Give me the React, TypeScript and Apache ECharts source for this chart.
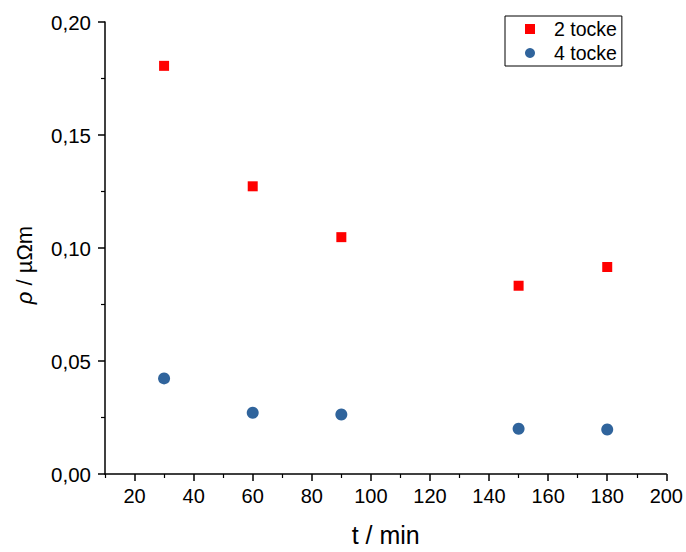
import React, { useEffect, useRef } from "react";
import * as echarts from "echarts";

const timesMin = [30, 60, 90, 150, 180];
const rho2Tocke = [0.1806, 0.1273, 0.1048, 0.0833, 0.0916];
const rho4Tocke = [0.0423, 0.0271, 0.0263, 0.0200, 0.0197];
const seriesNames = ["2 tocke", "4 tocke"];
const xMajorTicks = [20, 40, 60, 80, 100, 120, 140, 160, 180, 200];
const xMinorTicks = [10, 30, 50, 70, 90, 110, 130, 150, 170, 190];

export default function App() {
  const ref = useRef<HTMLDivElement>(null);
  useEffect(() => {
    if (!ref.current) return;
    const chart = echarts.init(ref.current, undefined, { renderer: "svg" });
    const font = "Arial, 'Liberation Sans', sans-serif";
    const axisLine = { show: true, onZero: false, lineStyle: { color: "#000", width: 1.5 } };
    chart.setOption({
      animation: false,
      backgroundColor: "#ffffff",
      textStyle: { fontFamily: font },
      grid: { left: 105, right: 18, top: 22, bottom: 76, containLabel: false },
      legend: {
        orient: "vertical",
        left: 505,
        top: 16,
        padding: [3, 5, 3, 20],
        itemGap: 4,
        itemWidth: 10,
        itemHeight: 10,
        borderColor: "#000",
        borderWidth: 1,
        textStyle: { fontSize: 19.5, lineHeight: 20, color: "#000", fontFamily: font, padding: [0, 0, 0, 14] },
        data: seriesNames,
      },
      xAxis: [
        {
          type: "value",
          min: 10,
          max: 200,
          position: "bottom",
          name: "t / min",
          nameLocation: "middle",
          nameGap: 48,
          nameTextStyle: { fontSize: 25, color: "#000", fontFamily: font },
          axisLine,
          axisTick: { show: true, inside: false, length: 7, customValues: xMajorTicks, lineStyle: { color: "#000", width: 1.5 } },
          splitLine: { show: false },
          axisLabel: {
            fontSize: 20,
            color: "#000",
            margin: 12,
            fontFamily: font,
            customValues: xMajorTicks,
            formatter: (v: number) => String(v),
          },
        },
        {
          type: "value",
          min: 10,
          max: 200,
          position: "bottom",
          gridIndex: 0,
          axisLine: { show: false, onZero: false },
          axisTick: { show: true, inside: false, length: 4, customValues: xMinorTicks, lineStyle: { color: "#000", width: 1.2 } },
          axisLabel: { show: false },
          splitLine: { show: false },
        },
      ],
      yAxis: {
        type: "value",
        min: 0,
        max: 0.2,
        interval: 0.05,
        name: "{i|ρ} / µΩm",
        nameLocation: "middle",
        nameRotate: 90,
        nameGap: 70,
        nameTextStyle: {
          fontSize: 22,
          color: "#000",
          fontFamily: font,
          padding: [0, 34, 0, 0],
          rich: { i: { fontStyle: "italic", fontSize: 22, fontFamily: font, color: "#000" } },
        },
        axisLine,
        axisTick: { show: true, inside: false, length: 7, lineStyle: { color: "#000", width: 1.5 } },
        minorTick: { show: true, splitNumber: 2, length: 4, lineStyle: { color: "#000", width: 1.2 } },
        splitLine: { show: false },
        minorSplitLine: { show: false },
        axisLabel: {
          fontSize: 20.5,
          color: "#000",
          margin: 14,
          fontFamily: font,
          formatter: (v: number) => v.toFixed(2).replace(".", ","),
        },
      },
      series: [
        {
          name: seriesNames[0],
          type: "scatter",
          symbol: "rect",
          symbolSize: 10,
          itemStyle: { color: "#ff0000", opacity: 1 },
          data: timesMin.map((t, i) => [t, rho2Tocke[i]]),
        },
        {
          name: seriesNames[1],
          type: "scatter",
          symbol: "circle",
          symbolSize: 12,
          itemStyle: { color: "#30649c", opacity: 1 },
          data: timesMin.map((t, i) => [t, rho4Tocke[i]]),
        },
      ],
    });
    return () => chart.dispose();
  }, []);
  return <div ref={ref} style={{ width: 686, height: 552, position: "absolute", left: 0, top: 0 }} />;
}
